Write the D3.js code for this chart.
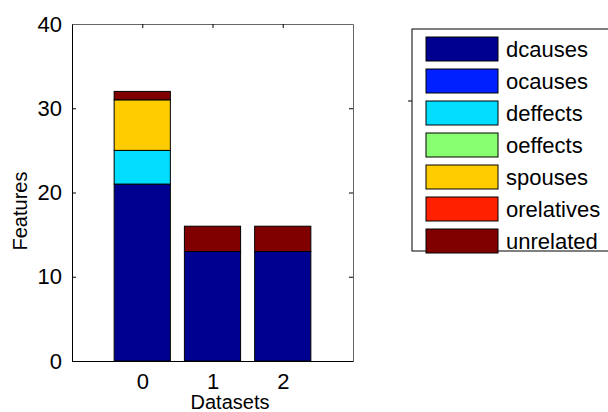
<!DOCTYPE html>
<html>
<head>
<meta charset="utf-8">
<script src="https://cdn.jsdelivr.net/npm/d3@7"></script>
<style>
  body { margin: 0; background: #fff; }
  svg { font-family: Arial, "Liberation Sans", sans-serif; }
</style>
</head>
<body>
<svg id="chart" width="608" height="412"></svg>
<script>
const datasets = [0, 1, 2];
const seriesNames = ["dcauses", "ocauses", "deffects", "oeffects", "spouses", "orelatives", "unrelated"];
const seriesColors = ["#000090", "#0020ff", "#00ddff", "#88ff70", "#ffcc00", "#ff2000", "#800000"];
// values per dataset for each series
const dcauses = [21, 13, 13];
const ocauses = [0, 0, 0];
const deffects = [4, 0, 0];
const oeffects = [0, 0, 0];
const spouses = [6, 0, 0];
const orelatives = [0, 0, 0];
const unrelated = [1, 3, 3];
const yTicks = [0, 10, 20, 30, 40];

const margin = { top: 24, left: 72, right: 353, bottom: 361 };

const svg = d3.select("#chart");

const table = datasets.map((d, i) => ({
  dataset: d,
  dcauses: dcauses[i],
  ocauses: ocauses[i],
  deffects: deffects[i],
  oeffects: oeffects[i],
  spouses: spouses[i],
  orelatives: orelatives[i],
  unrelated: unrelated[i],
}));

const stacked = d3.stack().keys(seriesNames)(table);

const x = d3.scaleLinear().domain([-1, 3]).range([margin.left, margin.right]);
const y = d3.scaleLinear().domain([0, 40]).range([margin.bottom, margin.top]);
const color = d3.scaleOrdinal().domain(seriesNames).range(seriesColors);
const barW = x(0.8) - x(0);

// axes box (MATLAB style, ticks inside)
const yAxisL = d3.axisLeft(y).tickValues(yTicks).tickFormat(d3.format("d"))
  .tickSizeInner(-4).tickSizeOuter(0).tickPadding(10);
const gL = svg.append("g").attr("transform", `translate(${margin.left},0)`).call(yAxisL);
gL.selectAll("text").attr("font-size", "22px").attr("fill", "#000");

const yAxisR = d3.axisRight(y).tickValues(yTicks).tickSizeInner(-4).tickSizeOuter(0).tickFormat("");
const gR = svg.append("g").attr("transform", `translate(${margin.right},0)`).call(yAxisR);

const xAxisB = d3.axisBottom(x).tickValues(datasets).tickFormat(d3.format("d"))
  .tickSizeInner(-4).tickSizeOuter(0).tickPadding(12);
const gB = svg.append("g").attr("transform", `translate(0,${margin.bottom})`).call(xAxisB);
gB.selectAll("text").attr("font-size", "22px").attr("fill", "#000");

const xAxisT = d3.axisTop(x).tickValues(datasets).tickSizeInner(-4).tickSizeOuter(0).tickFormat("");
const gT = svg.append("g").attr("transform", `translate(0,${margin.top})`).call(xAxisT);

svg.selectAll(".domain").attr("stroke", "#000");
svg.selectAll(".tick line").attr("stroke", "#000");
// top and right edges are lighter in the original
gR.select(".domain").attr("stroke", "#666");
gT.select(".domain").attr("stroke", "#666");

// bars (drawn over the bottom ticks)
svg.append("g")
  .selectAll("g")
  .data(stacked)
  .join("g")
  .attr("fill", (s) => color(s.key))
  .selectAll("rect")
  .data((s) => s)
  .join("rect")
  .attr("x", (d) => x(d.data.dataset) - barW / 2)
  .attr("y", (d) => y(d[1]))
  .attr("width", barW)
  .attr("height", (d) => y(d[0]) - y(d[1]))
  .attr("stroke", "#000")
  .attr("stroke-width", 1);

// axis labels
svg.append("text")
  .attr("x", 230)
  .attr("y", 409)
  .attr("text-anchor", "middle")
  .attr("font-size", "20px")
  .text("Datasets");

svg.append("text")
  .attr("transform", "translate(27,211) rotate(-90)")
  .attr("text-anchor", "middle")
  .attr("font-size", "20px")
  .text("Features");

// legend
const legend = svg.append("g").attr("transform", "translate(412,29)");
legend.append("rect")
  .attr("width", 210)
  .attr("height", 222)
  .attr("fill", "#fff")
  .attr("stroke", "#000");
legend.append("line")
  .attr("x1", -4).attr("x2", 0)
  .attr("y1", 72).attr("y2", 72)
  .attr("stroke", "#000");

const items = legend.selectAll("g.item")
  .data(seriesNames)
  .join("g")
  .attr("class", "item")
  .attr("transform", (d, i) => `translate(14,${8 + i * 32})`);
items.append("rect")
  .attr("width", 72)
  .attr("height", 24)
  .attr("fill", (d) => color(d))
  .attr("stroke", "#000");
items.append("text")
  .attr("x", 80)
  .attr("y", 12)
  .attr("dy", "0.35em")
  .attr("font-size", "22px")
  .text((d) => d);
</script>
</body>
</html>
